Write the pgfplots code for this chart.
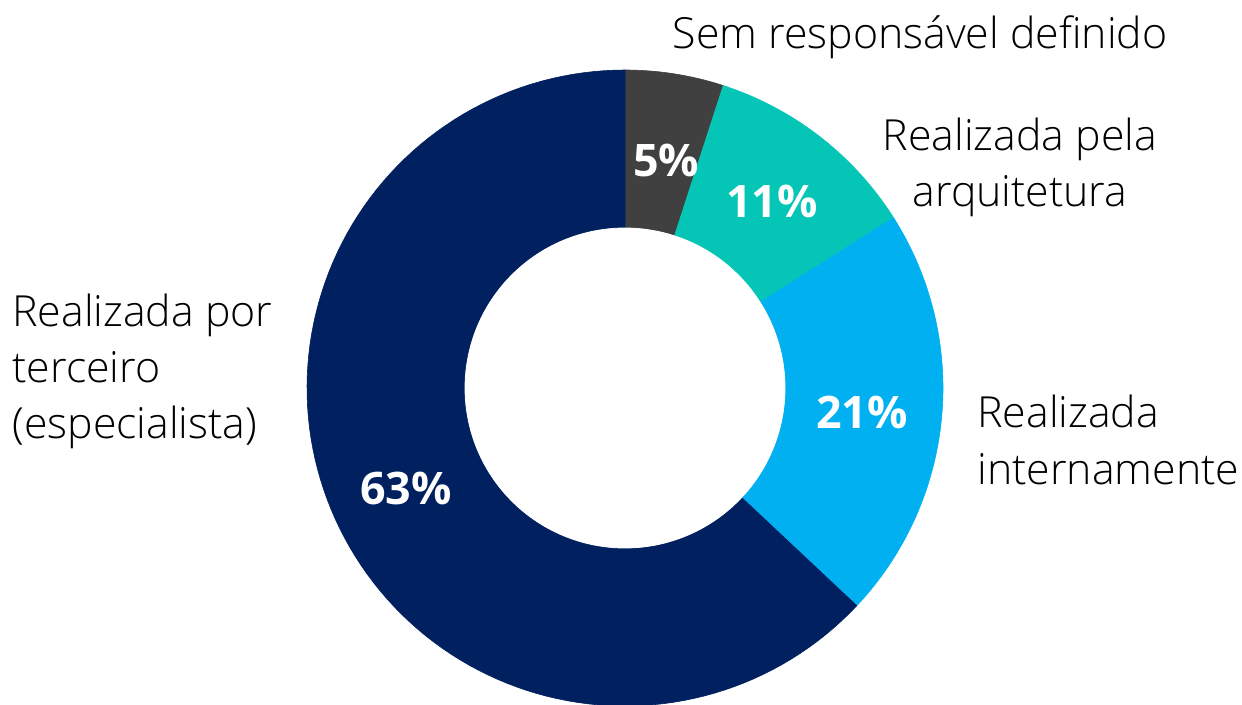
\documentclass[border=0pt]{standalone}
\usepackage{pgfplots}
\pgfplotsset{compat=1.18}
\usepackage{fontspec}
\setmainfont{Open Sans}
\newfontfamily\lightfont{Open Sans Light}
\definecolor{cGray}{HTML}{404040}
\definecolor{cTeal}{HTML}{05C6B6}
\definecolor{cBlue}{HTML}{00B0F0}
\definecolor{cNavy}{HTML}{012060}
\begin{document}
\begin{tikzpicture}
\begin{axis}[scale only axis, width=621bp, height=352.5bp,
  xmin=0, xmax=1242, ymin=0, ymax=705, y dir=reverse,
  hide axis, clip=false]
\def\cx{625}\def\cy{388}\def\ro{318}\def\ri{160}
\gdef\cum{0}
\foreach \v/\c in {5/cGray,11/cTeal,21/cBlue,63/cNavy}{
  \pgfmathsetmacro{\aS}{90-3.6*\cum}
  \pgfmathsetmacro{\aE}{90-3.6*(\cum+\v)}
  \edef\temp{\noexpand\addplot[fill=\c, draw=\c, line width=0.3pt, domain=\aE:\aS, samples=120] ({\cx+\ro*cos(x)},{\cy-\ro*sin(x)}) -- (axis cs:\cx,\cy) -- cycle;}
  \temp
  \pgfmathsetmacro{\nc}{\cum+\v}
  \xdef\cum{\nc}
}
\addplot[fill=white, draw=white, domain=0:360, samples=200] ({\cx+\ri*cos(x)},{\cy-\ri*sin(x)});
% percentage labels
\tikzset{pct/.style={font=\bfseries\fontsize{22.5}{26}\selectfont, text=white, inner sep=0pt, anchor=center},
         lab/.style={font=\lightfont\fontsize{21.5}{25}\selectfont, text=black, inner sep=0pt}}
\node[pct] at (axis cs:666,160) {5\%};
\node[pct] at (axis cs:772,201) {11\%};
\node[pct] at (axis cs:862,412) {21\%};
\node[pct] at (axis cs:406,488) {63\%};
% category labels
\node[lab, anchor=base] at (axis cs:920,49) {Sem responsável definido};
\node[lab, anchor=base] at (axis cs:1020,150) {Realizada pela};
\node[lab, anchor=base] at (axis cs:1020,206) {arquitetura};
\node[lab, anchor=base west] at (axis cs:977,427) {Realizada};
\node[lab, anchor=base west] at (axis cs:977,484) {internamente};
\node[lab, anchor=base west] at (axis cs:12,326) {Realizada por};
\node[lab, anchor=base west] at (axis cs:12,382) {terceiro};
\node[lab, anchor=base west] at (axis cs:12,438) {(especialista)};
\end{axis}
\pgfresetboundingbox
\useasboundingbox (current axis.south west) rectangle (current axis.north east);
\end{tikzpicture}
\end{document}
